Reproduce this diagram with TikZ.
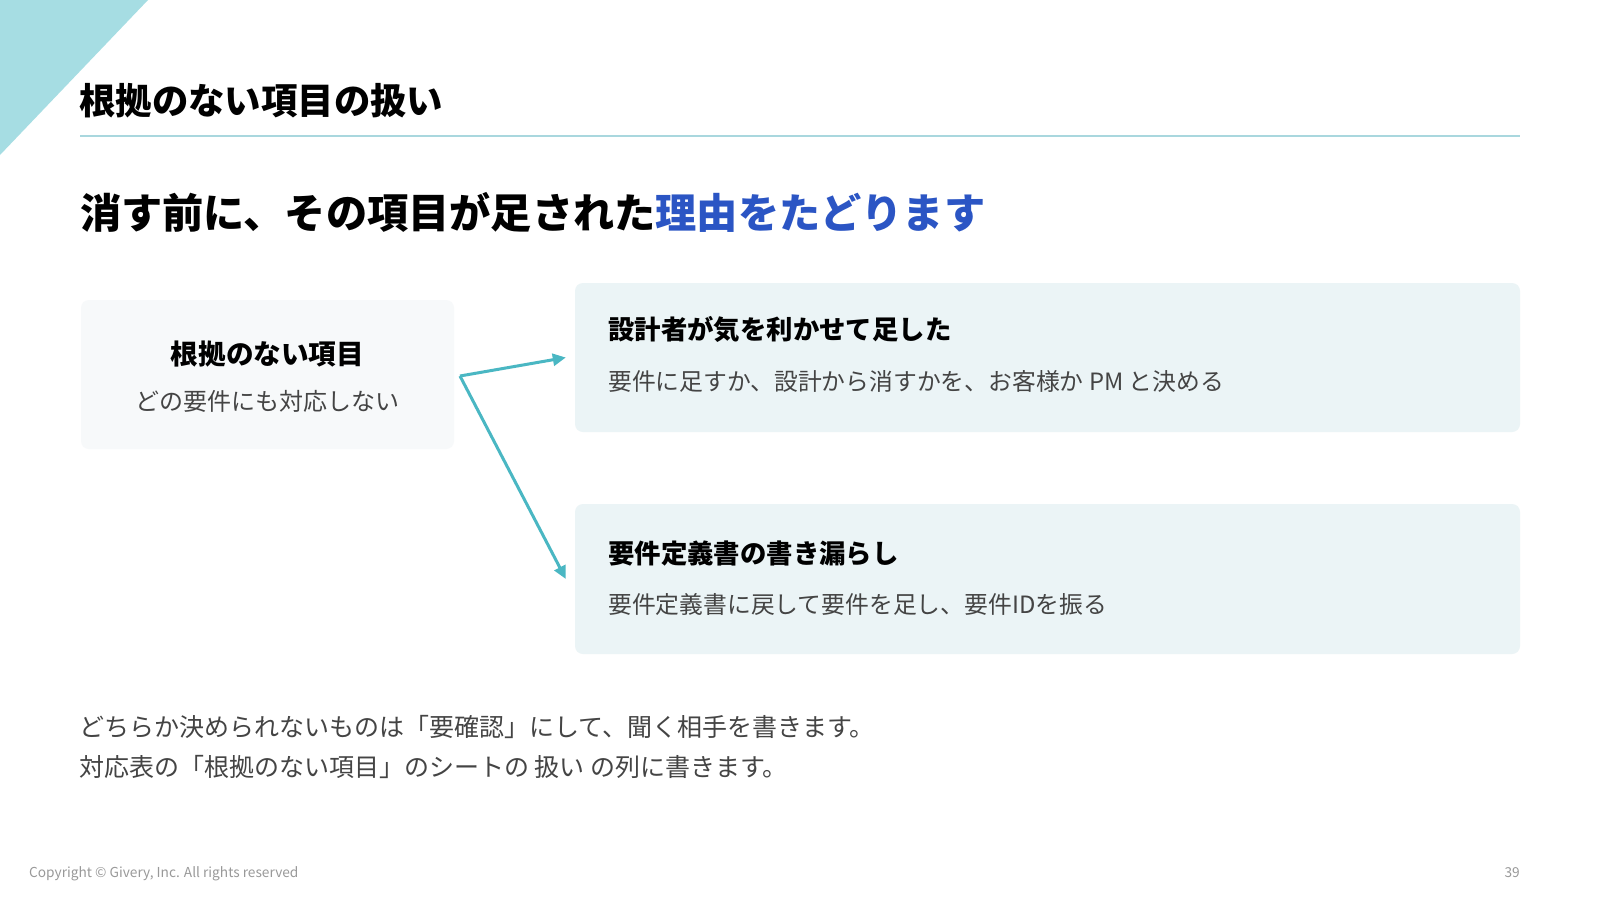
\documentclass[tikz,border=0pt]{standalone}
\usepackage{fontspec}
\setmainfont{Noto Sans CJK JP}
\usetikzlibrary{arrows.meta}
\definecolor{tri}{HTML}{A6DDE3}
\definecolor{rule}{HTML}{A9D7DE}
\definecolor{accent}{HTML}{2B55C4}
\definecolor{arrowc}{HTML}{4AB7C3}
\definecolor{lfill}{HTML}{F7F9FA}
\definecolor{rfill}{HTML}{EBF4F6}
\definecolor{bodytext}{HTML}{444444}
\definecolor{foot}{HTML}{999999}
\tikzset{
  leftbox/.style={fill=lfill, rounded corners=8pt, inner sep=0pt, minimum width=373pt, minimum height=149pt},
  rightbox/.style={fill=rfill, rounded corners=8pt, inner sep=0pt, minimum width=945pt, minimum height=149pt},
  boxhead/.style={inner sep=0pt, font=\fontsize{26.4}{32}\selectfont\bfseries, text=black},
  boxbody/.style={inner sep=0pt, font=\fontsize{23.8}{28}\selectfont, text=bodytext},
  note/.style={inner sep=0pt, anchor=west, font=\fontsize{25}{29}\selectfont, text=bodytext},
  footer/.style={inner sep=0pt, font=\fontsize{13.7}{16}\selectfont, text=foot},
  conn/.style={draw=arrowc, line width=3pt, -{Triangle[length=13pt,width=12pt]}},
}
\begin{document}
\begin{tikzpicture}[x=1pt,y=-1pt]
\useasboundingbox (0,0) rectangle (1600,900);
\fill[white] (0,0) rectangle (1600,900);
% corner triangle
\fill[tri] (0,0) -- (148,0) -- (0,155) -- cycle;
% title
\node[inner sep=0pt, anchor=west, font=\fontsize{36.4}{40}\selectfont\bfseries] (title) at (79,101) {根拠のない項目の扱い};
\draw[rule, line width=2pt] (80,136) -- (1520,136);
% subtitle
\node[inner sep=0pt, anchor=west, font=\fontsize{41.2}{46}\selectfont\bfseries] (sub) at (80,212) {消す前に、その項目が足された\textcolor{accent}{理由をたどります}};
% boxes
\node[leftbox] (lbox) at (267.5,374.5) {};
\node[boxhead, font=\fontsize{27.6}{32}\selectfont\bfseries] (lhead) at (267.5,354) {根拠のない項目};
\node[boxbody, font=\fontsize{24}{28}\selectfont] (lbody) at (267.5,401) {どの要件にも対応しない};
\node[rightbox] (r1) at (1047.5,357.5) {};
\node[boxhead, anchor=west] (r1head) at (608,329) {設計者が気を利かせて足した};
\node[boxbody, anchor=west] (r1body) at (608,381) {要件に足すか、設計から消すかを、お客様か PM と決める};
\node[rightbox, minimum height=150pt] (r2) at (1047.5,579) {};
\node[boxhead, anchor=west] (r2head) at (608,553) {要件定義書の書き漏らし};
\node[boxbody, anchor=west] (r2body) at (608,604) {要件定義書に戻して要件を足し、要件IDを振る};
% connectors
\coordinate (fork) at (460,376);
\draw[conn] (fork) -- ([xshift=-9pt]r1.west);
\draw[conn] (fork) -- ([xshift=-9pt]r2.west);
% notes
\node[note] (n1) at (79,727) {どちらか決められないものは「要確認」にして、聞く相手を書きます。};
\node[note] (n2) at (79,767) {対応表の「根拠のない項目」のシートの 扱い の列に書きます。};
% footer
\node[footer, anchor=west] (copy) at (29,874) {Copyright © Givery, Inc. All rights reserved};
\node[footer, anchor=east] (page) at (1520,873) {39};
\end{tikzpicture}
\end{document}
